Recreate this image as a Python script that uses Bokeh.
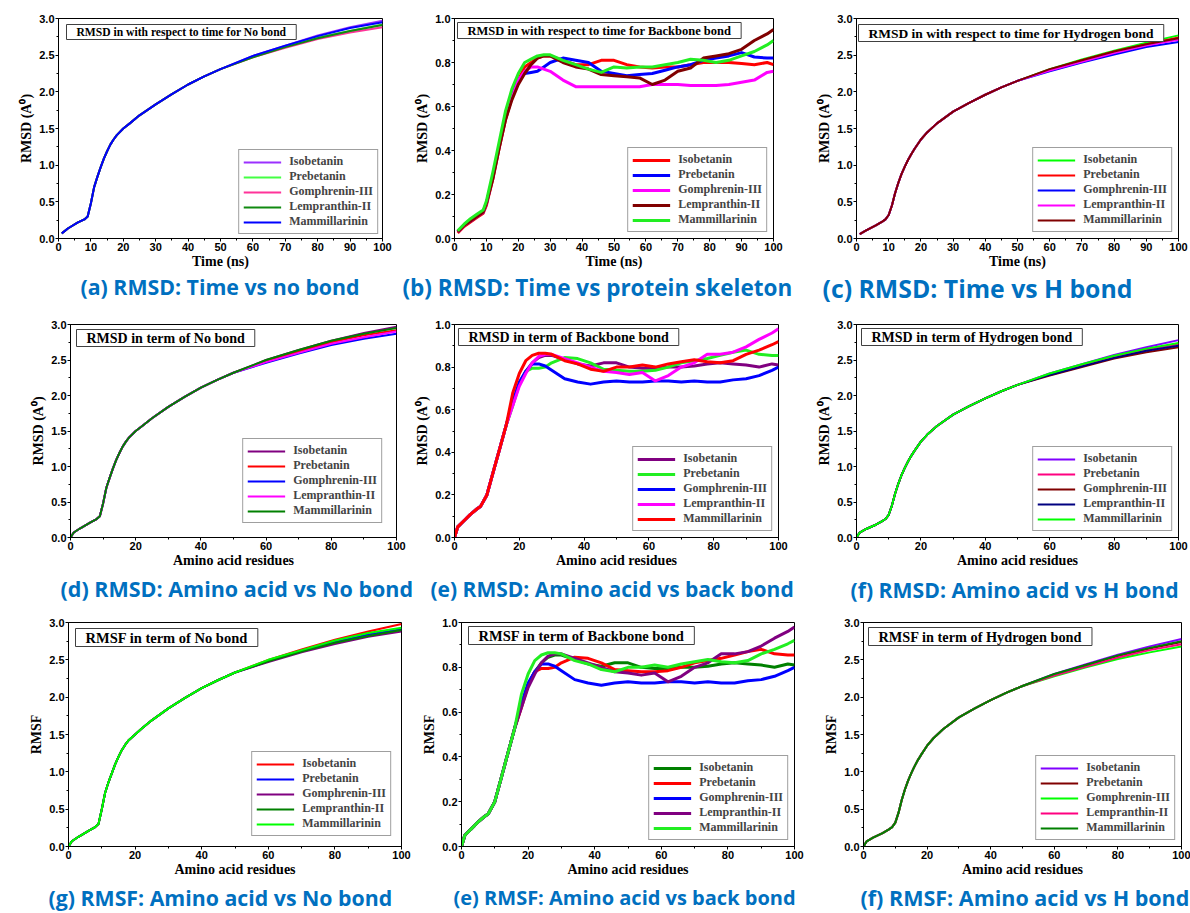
from bokeh.plotting import figure
from bokeh.layouts import column, row
from bokeh.models import (Range1d, SingleIntervalTicker, Label, Legend, LegendItem,
                          Title, NumeralTickFormatter)
from bokeh.embed import file_html
from bokeh.resources import INLINE

NAMES = ["Isobetanin", "Prebetanin", "Gomphrenin-III", "Lempranthin-II", "Mammillarinin"]

# ---------------- x grids ----------------
X_TIME = [1, 3, 6, 8, 9, 10, 11, 12, 13, 14, 15, 16, 17, 18, 20, 22, 25, 30, 35, 40, 45, 50,
          60, 70, 80, 90, 100]
X_AMINO = [0, 1, 3, 6, 8, 9, 10, 11, 12, 13, 14, 15, 16, 17, 18, 20, 22, 25, 30, 35, 40, 45, 50,
           60, 70, 80, 90, 100]
X_TIME_BB = [1, 3, 5, 7, 9, 10, 12, 14, 16, 18, 20, 22, 24, 26, 28, 30, 34, 38, 42, 46, 50, 54,
             58, 62, 66, 70, 74, 78, 82, 86, 90, 94, 98, 100]
X_AMINO_BB = [0, 1, 3, 5, 7, 8, 10, 12, 14, 16, 18, 20, 22, 24, 26, 28, 30, 34, 38, 42, 46, 50,
              54, 58, 62, 66, 70, 74, 78, 82, 86, 90, 94, 98, 100]

# ---------------- (a) RMSD time, no bond ----------------
A_START = [0.07, 0.14, 0.22, 0.26, 0.30, 0.48, 0.70, 0.84, 0.97, 1.09, 1.19, 1.28, 1.35, 1.41,
           1.50, 1.57, 1.68, 1.83, 1.97, 2.10, 2.21, 2.31]
A_ISO = A_START + [2.49, 2.63, 2.77, 2.88, 2.97]
A_PRE = A_START + [2.48, 2.61, 2.74, 2.83, 2.92]
A_GOM = A_START + [2.47, 2.60, 2.72, 2.81, 2.88]
A_LEM = A_START + [2.47, 2.61, 2.73, 2.83, 2.91]
A_MAM = A_START + [2.49, 2.63, 2.76, 2.87, 2.95]

# ---------------- (b) RMSD time, backbone ----------------
B_START = [0.03, 0.06, 0.08, 0.10, 0.12, 0.16, 0.28, 0.42, 0.55]
B_ISO = [0.025, 0.055, 0.075, 0.095, 0.115, 0.15, 0.27, 0.41, 0.54,
         0.64, 0.72, 0.78, 0.80, 0.82, 0.83, 0.83, 0.81, 0.79, 0.79, 0.81, 0.81, 0.79, 0.78,
         0.775, 0.78, 0.78, 0.79, 0.80, 0.80, 0.80, 0.795, 0.79, 0.80, 0.79]
B_PRE = B_START + [0.65, 0.72, 0.75, 0.755, 0.76, 0.78, 0.80, 0.82, 0.81, 0.80, 0.76, 0.75,
                   0.74, 0.745, 0.75, 0.765, 0.78, 0.79, 0.81, 0.82, 0.83, 0.845, 0.825, 0.82, 0.82]
B_GOM = B_START + [0.64, 0.72, 0.76, 0.78, 0.78, 0.77, 0.76, 0.72, 0.69, 0.69, 0.69, 0.69,
                   0.69, 0.69, 0.70, 0.70, 0.70, 0.695, 0.695, 0.695, 0.70, 0.71, 0.72, 0.755, 0.76]
B_LEM = [0.03, 0.06, 0.08, 0.10, 0.12, 0.16, 0.27, 0.41, 0.54,
         0.63, 0.70, 0.75, 0.79, 0.82, 0.83, 0.83, 0.80, 0.78, 0.77, 0.745, 0.74, 0.735, 0.73,
         0.70, 0.72, 0.76, 0.775, 0.82, 0.83, 0.84, 0.86, 0.90, 0.93, 0.95]
B_MAM = [0.035, 0.065, 0.09, 0.11, 0.13, 0.17, 0.30, 0.44, 0.58,
         0.68, 0.75, 0.80, 0.815, 0.83, 0.835, 0.835, 0.81, 0.79, 0.77, 0.755, 0.78, 0.775, 0.78,
         0.78, 0.79, 0.80, 0.815, 0.81, 0.80, 0.81, 0.83, 0.85, 0.88, 0.90]

# ---------------- (c) RMSD time, hydrogen ----------------
C_START = [0.06, 0.11, 0.18, 0.23, 0.26, 0.32, 0.45, 0.62, 0.76, 0.88, 0.98, 1.07, 1.15, 1.22,
           1.35, 1.45, 1.57, 1.73, 1.85, 1.96, 2.06, 2.15]
C_ISO = C_START + [2.31, 2.44, 2.56, 2.67, 2.77]
C_PRE = C_START + [2.30, 2.43, 2.55, 2.65, 2.74]
C_GOM = C_START + [2.28, 2.40, 2.51, 2.61, 2.68]
C_LEM = C_START + [2.29, 2.41, 2.53, 2.63, 2.71]
C_MAM = C_START + [2.31, 2.43, 2.55, 2.65, 2.73]

# ---------------- (d) RMSD amino, no bond ----------------
D_START = [0.0, 0.07, 0.13, 0.21, 0.26, 0.30, 0.48, 0.70, 0.84, 0.97, 1.09, 1.19, 1.28, 1.35,
           1.41, 1.50, 1.57, 1.68, 1.84, 1.98, 2.11, 2.22, 2.32]
D_ISO = D_START + [2.50, 2.64, 2.77, 2.88, 2.97]
D_PRE = D_START + [2.48, 2.62, 2.75, 2.85, 2.92]
D_GOM = D_START + [2.46, 2.59, 2.71, 2.80, 2.87]
D_LEM = D_START + [2.47, 2.60, 2.73, 2.82, 2.90]
D_MAM = D_START + [2.50, 2.64, 2.77, 2.87, 2.95]

# ---------------- (e) RMSD / RMSF amino, backbone ----------------
E_START = [0.0, 0.05, 0.08, 0.11, 0.135, 0.145, 0.20, 0.31, 0.42, 0.53]
E_ISO = E_START + [0.63, 0.72, 0.78, 0.82, 0.845, 0.855, 0.855, 0.835, 0.815, 0.805, 0.82, 0.82,
                   0.80, 0.795, 0.795, 0.80, 0.80, 0.805, 0.815, 0.82, 0.815, 0.81, 0.80, 0.815, 0.81]
E_PRE = E_START + [0.62, 0.72, 0.78, 0.795, 0.795, 0.80, 0.82, 0.845, 0.84, 0.82, 0.79, 0.785,
                   0.78, 0.78, 0.785, 0.80, 0.82, 0.83, 0.84, 0.855, 0.87, 0.88, 0.86, 0.855, 0.855]
E_GOM = E_START + [0.64, 0.73, 0.78, 0.815, 0.815, 0.805, 0.785, 0.745, 0.73, 0.72, 0.73, 0.735,
                   0.73, 0.73, 0.735, 0.735, 0.73, 0.735, 0.73, 0.73, 0.74, 0.745, 0.76, 0.785, 0.80]
E_LEM = E_START + [0.62, 0.71, 0.77, 0.82, 0.85, 0.86, 0.86, 0.84, 0.82, 0.80, 0.78, 0.775,
                   0.765, 0.775, 0.735, 0.76, 0.80, 0.82, 0.86, 0.86, 0.87, 0.895, 0.93, 0.96, 0.98]
E_MAM = E_START + [0.68, 0.77, 0.83, 0.855, 0.865, 0.865, 0.86, 0.83, 0.815, 0.79, 0.78, 0.80,
                   0.80, 0.81, 0.80, 0.815, 0.825, 0.835, 0.825, 0.82, 0.83, 0.86, 0.88, 0.905, 0.92]

# ---------------- (f) RMSD amino, hydrogen ----------------
F_START = [0.0, 0.07, 0.12, 0.18, 0.23, 0.26, 0.32, 0.45, 0.62, 0.76, 0.88, 0.98, 1.07, 1.15,
           1.22, 1.35, 1.45, 1.57, 1.73, 1.85, 1.96, 2.06, 2.15]
F_ISO = F_START + [2.31, 2.44, 2.57, 2.68, 2.78]
F_PRE = F_START + [2.30, 2.43, 2.55, 2.65, 2.72]
F_GOM = F_START + [2.28, 2.40, 2.52, 2.61, 2.68]
F_LEM = F_START + [2.29, 2.41, 2.53, 2.63, 2.70]
F_MAM = F_START + [2.31, 2.44, 2.56, 2.66, 2.74]

# ---------------- (g) RMSF amino, no bond ----------------
G_START = [0.0, 0.07, 0.13, 0.21, 0.26, 0.30, 0.50, 0.72, 0.86, 0.98, 1.10, 1.20, 1.29, 1.36,
           1.42, 1.50, 1.58, 1.69, 1.85, 1.99, 2.12, 2.23, 2.33]
G_ISO = G_START + [2.50, 2.64, 2.77, 2.88, 2.98]
G_PRE = G_START + [2.48, 2.62, 2.74, 2.84, 2.91]
G_GOM = G_START + [2.47, 2.60, 2.71, 2.81, 2.88]
G_LEM = G_START + [2.48, 2.61, 2.73, 2.82, 2.90]
G_MAM = G_START + [2.50, 2.63, 2.76, 2.86, 2.93]

# ---------------- (f) RMSF amino, hydrogen ----------------
H_START = [0.0, 0.07, 0.12, 0.18, 0.23, 0.26, 0.32, 0.45, 0.62, 0.76, 0.88, 0.98, 1.07, 1.15,
           1.22, 1.35, 1.45, 1.57, 1.73, 1.85, 1.96, 2.06, 2.15]
H_ISO = H_START + [2.31, 2.44, 2.57, 2.68, 2.78]
H_PRE = H_START + [2.30, 2.43, 2.55, 2.65, 2.74]
H_GOM = H_START + [2.28, 2.40, 2.51, 2.60, 2.68]
H_LEM = H_START + [2.29, 2.41, 2.53, 2.63, 2.71]
H_MAM = H_START + [2.31, 2.43, 2.56, 2.66, 2.75]

CAP_COLOR = "#0070C0"
RMSD_LABEL = "RMSD (A\u2070)"


def make_panel(w, h, mbl, mbr, mbt, mbb, x, ys, colors, lw, ymax, ystep, xstep,
               xlabel, ylabel, box_text, box_dx, box_dy, box_size, caption, cap_off,
               cap_size, cap_standoff, leg_margin=6):
    fw = w - mbl - mbr
    fh = h - mbt - mbb
    p = figure(width=w, height=h, x_range=Range1d(0, 100), y_range=Range1d(0, ymax),
               output_backend="svg", toolbar_location=None, title=None,
               min_border_left=mbl, min_border_right=mbr, min_border_top=mbt,
               min_border_bottom=mbb, background_fill_color="white",
               border_fill_color="white")
    p.xgrid.visible = False
    p.ygrid.visible = False
    p.outline_line_color = "black"
    p.outline_line_width = 1
    p.outline_line_alpha = 1
    p.xaxis.ticker = SingleIntervalTicker(interval=xstep, num_minor_ticks=2)
    p.yaxis.ticker = SingleIntervalTicker(interval=ystep, num_minor_ticks=2)
    p.yaxis.formatter = NumeralTickFormatter(format="0.0")
    for ax in (p.xaxis[0], p.yaxis[0]):
        ax.axis_line_color = "black"
        ax.major_tick_line_color = "black"
        ax.minor_tick_line_color = "black"
        ax.major_tick_in = 0
        ax.major_tick_out = 3
        ax.minor_tick_in = 0
        ax.minor_tick_out = 2
        ax.major_label_text_font = "Liberation Sans"
        ax.major_label_text_font_style = "bold"
        ax.major_label_text_font_size = "11px"
        ax.major_label_text_color = "black"
        ax.major_label_standoff = 1
        ax.axis_label_text_font = "Liberation Serif"
        ax.axis_label_text_font_style = "bold"
        ax.axis_label_text_font_size = "14px"
        ax.axis_label_text_color = "black"
    p.xaxis[0].axis_label_standoff = 0
    p.yaxis[0].axis_label_standoff = 2
    p.xaxis.axis_label = xlabel
    p.yaxis.axis_label = ylabel

    items = []
    for name, yv, c in zip(NAMES, ys, colors):
        r = p.line(x, yv, line_color=c, line_width=lw, line_join="round")
        items.append(LegendItem(label=name, renderers=[r]))
    leg = Legend(items=items, location="bottom_right", margin=leg_margin, padding=4,
                 spacing=0, glyph_width=38, glyph_height=14, label_height=14,
                 label_standoff=8, label_text_font="Liberation Serif",
                 label_text_font_style="bold", label_text_font_size="12px",
                 label_text_line_height=1.0,
                 border_line_color="#404040", border_line_width=1,
                 background_fill_color="white", background_fill_alpha=1)
    p.add_layout(leg)

    padx, pady = 10, 1
    lab = Label(x=box_dx / fw * 100, y=ymax - box_dy / fh * ymax, text=box_text,
                text_font="Liberation Serif", text_font_style="bold",
                text_font_size=box_size, text_color="black",
                text_baseline="top", text_align="left",
                border_line_color="#404040", border_line_width=1,
                background_fill_color="white", background_fill_alpha=1,
                padding=dict(left=padx, right=padx, top=pady, bottom=pady))
    p.add_layout(lab)

    t = Title(text=caption, align="left", text_font="Open Sans", text_font_style="bold",
              text_font_size=cap_size, text_color=CAP_COLOR, standoff=cap_standoff,
              offset=cap_off)
    p.add_layout(t, "below")
    return p


# row 1 (0..303): frame 18..238
pa = make_panel(400, 303, 58, 18, 18, 65, X_TIME, [A_ISO, A_PRE, A_GOM, A_LEM, A_MAM],
                ["#9B30FF", "#44FF44", "#FF3399", "#108A10", "#0000FF"], 2, 3.0, 0.5, 10,
                "Time (ns)", RMSD_LABEL, "RMSD in with respect to time for No bond",
                8, 6, "11.6px", "(a) RMSD: Time vs no bond", 22, "21.3px", -3, 4)
pb = make_panel(410, 303, 54, 37, 18, 65, X_TIME_BB, [B_ISO, B_PRE, B_GOM, B_LEM, B_MAM],
                ["#FF0000", "#0000FF", "#FF00FF", "#800000", "#22EE22"], 3, 1.0, 0.2, 10,
                "Time (ns)", RMSD_LABEL, "RMSD in with respect to time for Backbone bond",
                3, 4, "12.5px", "(b) RMSD: Time vs protein skeleton", -52, "22.5px", -4)
pc = make_panel(380, 303, 46, 12, 18, 65, X_TIME, [C_ISO, C_PRE, C_GOM, C_LEM, C_MAM],
                ["#00FF00", "#FF0000", "#0000FF", "#FF00FF", "#800000"], 2, 3.0, 0.5, 10,
                "Time (ns)", RMSD_LABEL, "RMSD in with respect to time for Hydrogen bond",
                2, 6, "13.5px", "(c) RMSD: Time vs H bond", -34, "24.8px", -6)

# row 2 (303..606): frame 324..537
pd = make_panel(412, 303, 70, 16, 21, 69, X_AMINO, [D_ISO, D_PRE, D_GOM, D_LEM, D_MAM],
                ["#800080", "#FF0000", "#0000FF", "#FF00FF", "#008000"], 2, 3.0, 0.5, 20,
                "Amino acid residues", RMSD_LABEL, "RMSD in term of No bond",
                6, 5, "14px", "(d) RMSD: Amino acid vs No bond", -10, "21.5px", 3, 14)
pe = make_panel(398, 303, 40, 32, 21, 69, X_AMINO_BB, [E_ISO, E_PRE, E_GOM, E_LEM, E_MAM],
                ["#800080", "#22EE22", "#0000FF", "#FF00FF", "#FF0000"], 3, 1.0, 0.2, 20,
                "Amino acid residues", RMSD_LABEL, "RMSD in term of Backbone bond",
                4, 4, "14px", "(e) RMSD: Amino acid vs back bond", -24, "21px", 4)
pf = make_panel(380, 303, 46, 12, 21, 69, X_AMINO, [F_ISO, F_PRE, F_GOM, F_LEM, F_MAM],
                ["#8000FF", "#FF0080", "#800000", "#000080", "#00FF00"], 2, 3.0, 0.5, 20,
                "Amino acid residues", RMSD_LABEL, "RMSD in term of Hydrogen bond",
                5, 4, "14px", "(f) RMSD: Amino acid vs H bond", -6, "21.2px", 4)

# row 3 (606..913): frame 622..846
pg = make_panel(412, 307, 68, 11, 16, 67, X_AMINO, [G_ISO, G_PRE, G_GOM, G_LEM, G_MAM],
                ["#FF0000", "#0000FF", "#800080", "#008000", "#00FF00"], 2, 3.0, 0.5, 20,
                "Amino acid residues", "RMSF", "RMSF in term of No bond",
                7, 6, "14.5px", "(g) RMSF: Amino acid vs No bond", -20, "21.3px", 2, 10)
pe2 = make_panel(404, 307, 49, 22, 16, 67, X_AMINO_BB, [E_ISO, E_PRE, E_GOM, E_LEM, E_MAM],
                 ["#008000", "#FF0000", "#0000FF", "#800080", "#22EE22"], 3, 1.0, 0.2, 20,
                 "Amino acid residues", "RMSF", "RMSF in term of Backbone bond",
                 7, 4, "14.5px", "(e) RMSF: Amino acid vs back bond", -8, "20px", 4)
pf2 = make_panel(374, 307, 47, 9, 16, 67, X_AMINO, [H_ISO, H_PRE, H_GOM, H_LEM, H_MAM],
                 ["#8000FF", "#800000", "#00FF00", "#FF0080", "#008000"], 2, 3.0, 0.5, 20,
                 "Amino acid residues", "RMSF", "RMSF in term of Hydrogen bond",
                 5, 5, "14.3px", "(f) RMSF: Amino acid vs H bond", -3, "21.5px", 2)

layout = column(row(pa, pb, pc), row(pd, pe, pf), row(pg, pe2, pf2))
open("out.html", "w").write(file_html(layout, INLINE))
